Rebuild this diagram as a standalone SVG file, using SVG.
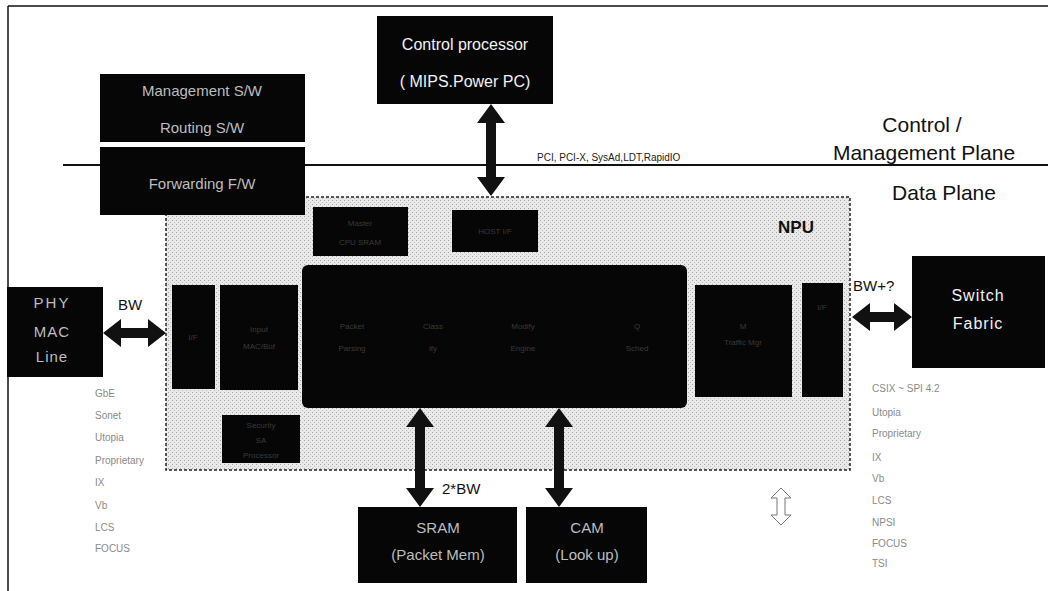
<svg xmlns="http://www.w3.org/2000/svg" width="1048" height="591" viewBox="0 0 1048 591">
<defs>
<pattern id="ht" width="4" height="4" patternUnits="userSpaceOnUse">
<rect width="4" height="4" fill="#e9e9e9"/>
<rect x="0" y="0" width="1" height="1" fill="#a4a4a4"/>
<rect x="2" y="2" width="1" height="1" fill="#bcbcbc"/>
</pattern>
</defs>
<style>
.box{fill:#060606;}
.wt{font-family:"Liberation Sans",Arial,sans-serif;font-size:16px;fill:#f2f2f2;text-anchor:middle;}
.gt{font-family:"Liberation Sans",Arial,sans-serif;font-size:15px;fill:#bdbdbd;text-anchor:middle;}
.dim{font-family:"Liberation Sans",Arial,sans-serif;font-size:8px;fill:#3a3a3a;text-anchor:middle;}
.big{font-family:"Liberation Sans",Arial,sans-serif;font-size:21px;fill:#111;text-anchor:middle;}
.lbl{font-family:"Liberation Sans",Arial,sans-serif;font-size:15px;fill:#111;}
.lst{font-family:"Liberation Sans",Arial,sans-serif;font-size:10px;fill:#8a8a8a;}
.arr{fill:#111;}
.line{stroke:#111;fill:none;}
</style>
<rect width="1048" height="591" fill="#ffffff"/>
<g id="frame">
<line class="line" x1="8" y1="6" x2="1048" y2="6" stroke-width="1.5"/>
<line class="line" x1="8" y1="6" x2="8" y2="591" stroke-width="1.5"/>
<line class="line" x1="63" y1="165" x2="1048" y2="165" stroke-width="2"/>
</g>
<g id="npu">
<rect x="166" y="197" width="684" height="273" fill="url(#ht)" stroke="#222" stroke-width="1.5" stroke-dasharray="3 2"/>
<text x="796" y="233" font-family="Liberation Sans,Arial,sans-serif" font-size="17" font-weight="bold" fill="#111" text-anchor="middle">NPU</text>
</g>
<g id="mgmt-sw">
<rect class="box" x="100" y="74" width="205" height="68"/>
<text class="gt" x="202" y="96">Management S/W</text>
<text class="gt" x="202" y="133">Routing S/W</text>
</g>
<g id="fwd-fw">
<rect class="box" x="100" y="147" width="205" height="68"/>
<text class="gt" x="202" y="189">Forwarding F/W</text>
</g>
<g id="control-processor">
<rect class="box" x="377" y="16" width="176" height="88"/>
<text class="wt" x="465" y="50">Control processor</text>
<text class="wt" x="465" y="87">( MIPS.Power PC)</text>
</g>
<g id="plane-labels">
<text class="big" x="922" y="132">Control /</text>
<text class="big" x="924" y="160">Management Plane</text>
<text class="big" x="944" y="200">Data Plane</text>
<text x="537" y="161" font-family="Liberation Sans,Arial,sans-serif" font-size="10" fill="#222">PCI, PCI-X, SysAd,LDT,RapidIO</text>
</g>
<g id="master">
<rect class="box" x="313" y="207" width="95" height="49"/>
<text class="dim" x="360" y="226">Master</text>
<text class="dim" x="360" y="245">CPU SRAM</text>
</g>
<g id="host-if">
<rect class="box" x="452" y="210" width="86" height="42"/>
<text class="dim" x="495" y="234">HOST I/F</text>
</g>
<g id="left-if">
<rect class="box" x="172" y="285" width="43" height="104"/>
<text class="dim" x="193" y="340">I/F</text>
</g>
<g id="input-buf">
<rect class="box" x="220" y="285" width="78" height="105"/>
<text class="dim" x="259" y="332">Input</text>
<text class="dim" x="259" y="349">MAC/Buf</text>
</g>
<g id="main-engine">
<rect class="box" x="302" y="265" width="385" height="143" rx="6"/>
<text class="dim" x="352" y="329">Packet</text>
<text class="dim" x="352" y="351">Parsing</text>
<text class="dim" x="433" y="329">Class</text>
<text class="dim" x="433" y="351">ify</text>
<text class="dim" x="523" y="329">Modify</text>
<text class="dim" x="523" y="351">Engine</text>
<text class="dim" x="637" y="329">Q</text>
<text class="dim" x="637" y="351">Sched</text>
</g>
<g id="security">
<rect class="box" x="222" y="415" width="78" height="48"/>
<text class="dim" x="261" y="428">Security</text>
<text class="dim" x="261" y="443">SA</text>
<text class="dim" x="261" y="458">Processor</text>
</g>
<g id="traffic-mgr">
<rect class="box" x="695" y="285" width="97" height="112"/>
<text class="dim" x="743" y="329">M</text>
<text class="dim" x="743" y="345">Traffic Mgr</text>
</g>
<g id="right-if">
<rect class="box" x="802" y="283" width="41" height="114"/>
<text class="dim" x="822" y="310">I/F</text>
</g>
<g id="phy">
<rect class="box" x="7" y="287" width="96" height="90"/>
<text class="gt" x="52" y="308" letter-spacing="2">PHY</text>
<text class="gt" x="52" y="337" letter-spacing="1">MAC</text>
<text class="gt" x="52" y="362" letter-spacing="1">Line</text>
</g>
<g id="switch-fabric">
<rect class="box" x="912" y="256" width="133" height="112"/>
<text class="wt" x="978" y="301" font-size="18" letter-spacing="1">Switch</text>
<text class="wt" x="978" y="329" font-size="18" letter-spacing="1">Fabric</text>
</g>
<g id="sram">
<rect class="box" x="358" y="507" width="159" height="76"/>
<text class="gt" x="438" y="533">SRAM</text>
<text class="gt" x="438" y="560">(Packet Mem)</text>
</g>
<g id="cam">
<rect class="box" x="526" y="507" width="121" height="76"/>
<text class="gt" x="587" y="533">CAM</text>
<text class="gt" x="587" y="560">(Look up)</text>
</g>
<g id="connectors">
<polygon class="arr" points="103,333 121,319 121,328 148,328 148,319 166,333 148,347 148,338 121,338 121,347"/>
<polygon class="arr" points="852,317 870,303 870,312 894,312 894,303 912,317 894,331 894,322 870,322 870,331"/>
<polygon class="arr" points="491,104 477,123 486,123 486,177 477,177 491,196 505,177 496,177 496,123 505,123"/>
<polygon class="arr" points="420,408 406,427 415,427 415,488 406,488 420,507 434,488 425,488 425,427 434,427"/>
<polygon class="arr" points="559,408 545,427 554,427 554,488 545,488 559,507 573,488 564,488 564,427 573,427"/>
<path d="M781,488 L771,498 L777,498 L777,515 L771,515 L781,525 L791,515 L785,515 L785,498 L791,498 Z" fill="#fff" stroke="#777" stroke-width="1"/>
</g>
<g id="labels">
<text class="lbl" x="118" y="310">BW</text>
<text class="lbl" x="853" y="291">BW+?</text>
<text class="lbl" x="442" y="494">2*BW</text>
</g>
<g id="left-list">
<text class="lst" x="95" y="397">GbE</text>
<text class="lst" x="95" y="419">Sonet</text>
<text class="lst" x="95" y="441">Utopia</text>
<text class="lst" x="95" y="464">Proprietary</text>
<text class="lst" x="95" y="486">IX</text>
<text class="lst" x="95" y="509">Vb</text>
<text class="lst" x="95" y="531">LCS</text>
<text class="lst" x="95" y="552">FOCUS</text>
</g>
<g id="right-list">
<text class="lst" x="872" y="392">CSIX ~ SPI 4.2</text>
<text class="lst" x="872" y="416">Utopia</text>
<text class="lst" x="872" y="437">Proprietary</text>
<text class="lst" x="872" y="461">IX</text>
<text class="lst" x="872" y="482">Vb</text>
<text class="lst" x="872" y="504">LCS</text>
<text class="lst" x="872" y="526">NPSI</text>
<text class="lst" x="872" y="547">FOCUS</text>
<text class="lst" x="872" y="567">TSI</text>
</g>
</svg>
